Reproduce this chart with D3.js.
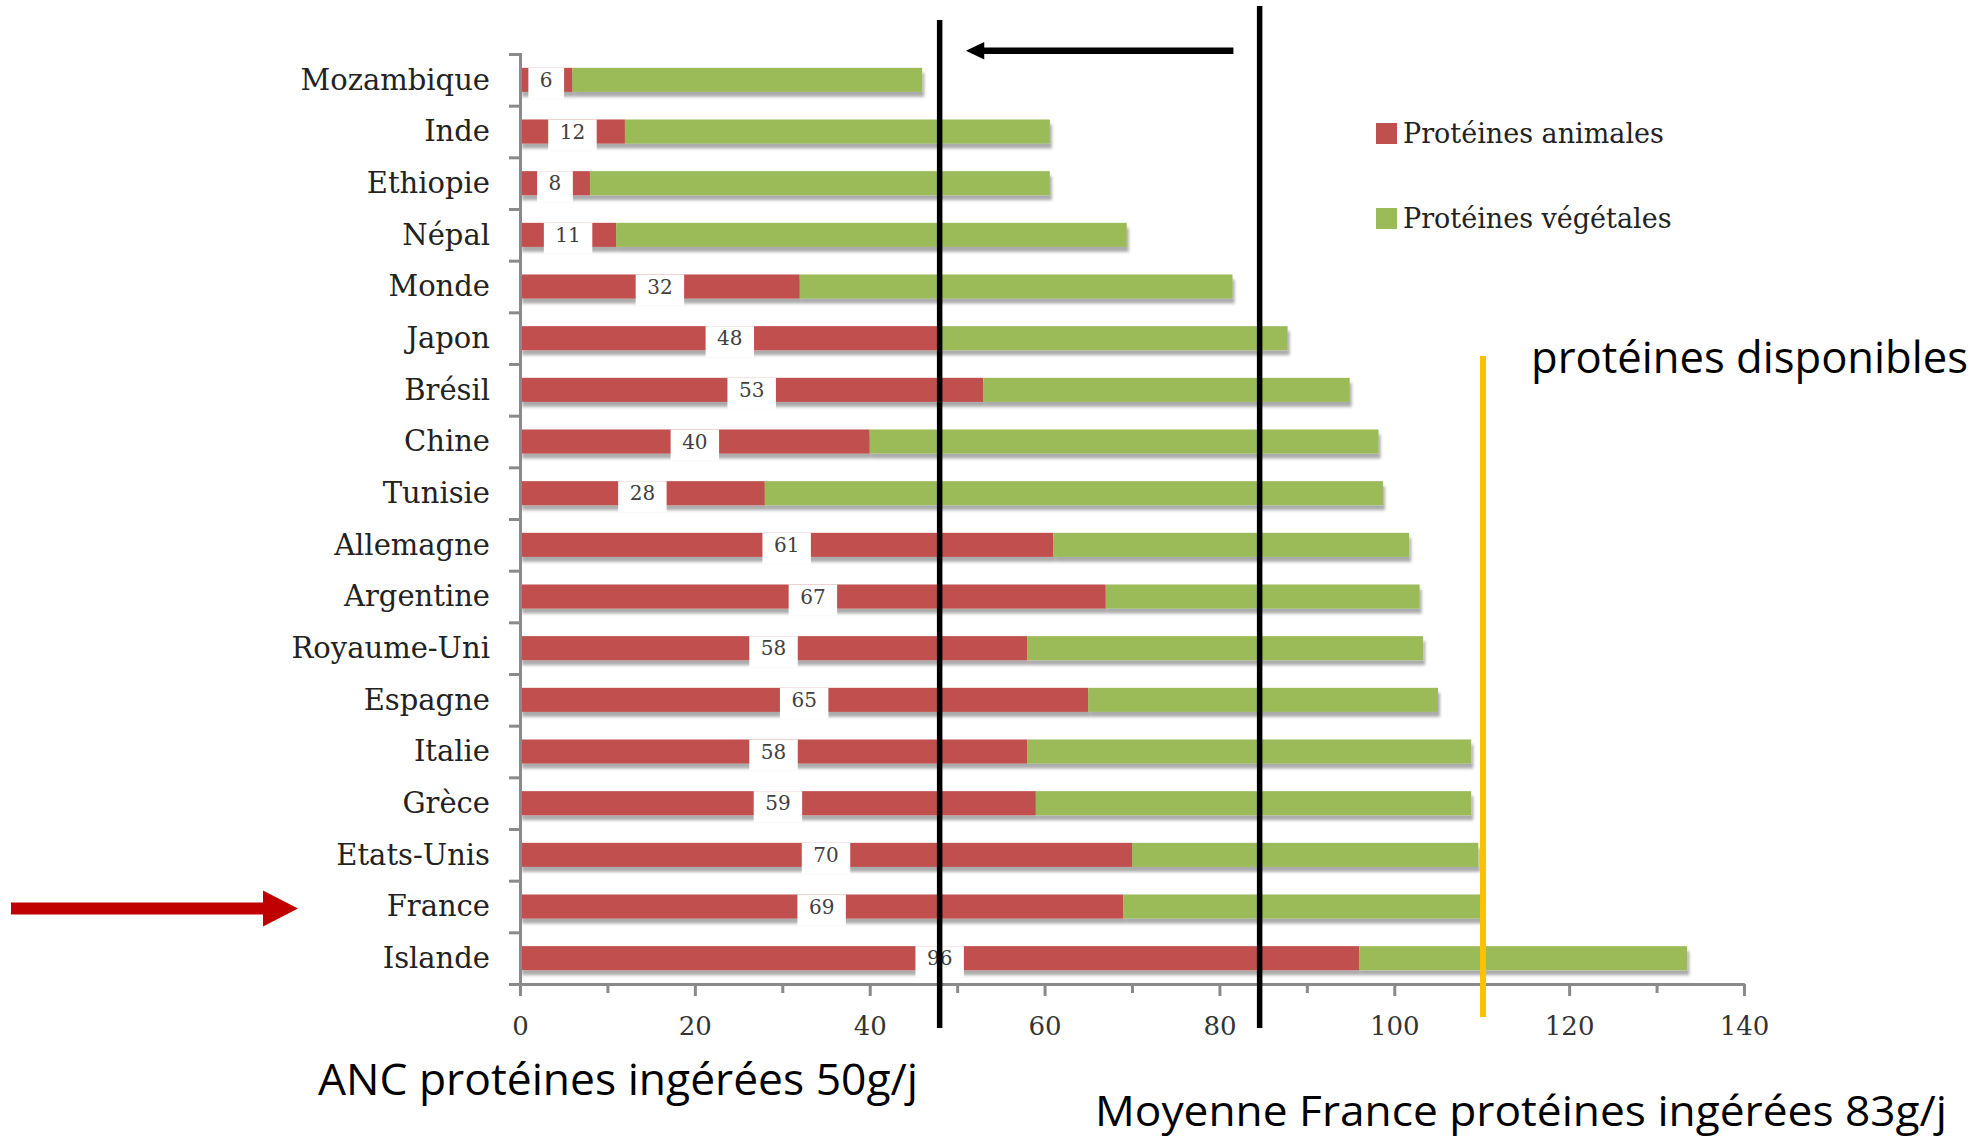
<!DOCTYPE html>
<html lang="fr">

<head>
    <meta charset="UTF-8">
    <title>Protéines disponibles</title>
    <style>
        body { margin: 0; background: #fff; }
        svg { display: block; }
    </style>
</head>

<body>
    <script src="https://d3js.org/d3.v7.min.js"></script>
    <svg id="vis"></svg>

    <script>
        // Data
        const countries = ['Mozambique', 'Inde', 'Ethiopie', 'Népal', 'Monde', 'Japon', 'Brésil', 'Chine', 'Tunisie',
            'Allemagne', 'Argentine', 'Royaume-Uni', 'Espagne', 'Italie', 'Grèce', 'Etats-Unis', 'France', 'Islande']
        const animal = [6, 12, 8, 11, 32, 48, 53, 40, 28, 61, 67, 58, 65, 58, 59, 70, 69, 96]
        const vegetal = [40, 48.6, 52.6, 58.4, 49.5, 39.8, 41.9, 58.2, 70.7, 40.7, 35.9, 45.3, 40, 50.8, 49.8, 39.6, 41, 37.5]
        const seriesNames = ['Protéines animales', 'Protéines végétales']
        const xTicks = [0, 20, 40, 60, 80, 100, 120, 140]
        const xMinorTicks = [10, 30, 50, 70, 90, 110, 130]

        // Annotation values (g/j)
        const ancLine = 48
        const franceLine = 84.6
        const availableLine = 110.15

        // Configurations
        const width = 1973
        const height = 1138
        const red = '#C0504D'
        const green = '#9BBB59'
        const axisGrey = '#8a8a8a'
        const serif = '"DejaVu Serif", serif'
        const sans = '"Open Sans", sans-serif'

        const rows = countries.map((c, i) => ({ country: c, animal: animal[i], vegetal: vegetal[i] }))

        const svg = d3.select('#vis')
            .attr('width', width)
            .attr('height', height)

        const defs = svg.append('defs')
        const shadow = defs.append('filter')
            .attr('id', 'shadow')
            .attr('x', '-5%').attr('y', '-50%')
            .attr('width', '110%').attr('height', '200%')
        shadow.append('feDropShadow')
            .attr('dx', 2).attr('dy', 5)
            .attr('stdDeviation', 1.6)
            .attr('flood-color', '#000')
            .attr('flood-opacity', 0.33)

        const x = d3.scaleLinear().domain([0, 140]).range([520, 1744])
        const y = d3.scaleBand().domain(countries).range([54, 984]).paddingInner(0.535).paddingOuter(0.2675)
        const yEdges = d3.scaleLinear().domain([0, countries.length]).range([54, 984])

        // Bars
        const bar = svg.append('g').selectAll('g').data(rows).join('g')
            .attr('filter', 'url(#shadow)')
        bar.append('rect')
            .attr('x', x(0))
            .attr('y', d => y(d.country))
            .attr('width', d => x(d.animal) - x(0))
            .attr('height', y.bandwidth())
            .attr('fill', red)
        bar.append('rect')
            .attr('x', d => x(d.animal))
            .attr('y', d => y(d.country))
            .attr('width', d => x(d.animal + d.vegetal) - x(d.animal))
            .attr('height', y.bandwidth())
            .attr('fill', green)

        // Value labels (animal proteins), white box sized to the text
        const label = svg.append('g').selectAll('g').data(rows).join('g')
            .attr('transform', d => `translate(${x(d.animal / 2)},${y(d.country)})`)
        const labelBox = label.append('rect')
            .attr('y', 0)
            .attr('height', 31)
            .attr('fill', '#fff')
        const labelText = label.append('text')
            .attr('y', y.bandwidth() / 2)
            .attr('dy', '0.36em')
            .attr('text-anchor', 'middle')
            .style('font-family', serif)
            .style('font-size', '20px')
            .attr('fill', '#404040')
            .text(d => d.animal)
        labelText.each(function (d) {
            const w = this.getComputedTextLength() + 23
            d3.select(this.parentNode).select('rect').attr('x', -w / 2).attr('width', w)
        })

        // Y axis: boundary ticks + category labels
        svg.append('g')
            .attr('transform', `translate(${x(0)},0)`)
            .call(d3.axisLeft(yEdges).ticks(countries.length).tickSize(11).tickFormat(''))
            .call(g => g.selectAll('path, line').attr('stroke', axisGrey).attr('stroke-width', 3))
        svg.append('g')
            .attr('transform', `translate(${x(0)},0)`)
            .call(d3.axisLeft(y).tickSize(0).tickPadding(30))
            .call(g => g.select('.domain').remove())
            .call(g => g.selectAll('text')
                .attr('dy', '0.34em')
                .style('font-family', serif)
                .style('font-size', '29px')
                .attr('fill', '#222'))

        // X axis
        svg.append('g')
            .attr('transform', `translate(0,${yEdges(countries.length)})`)
            .call(d3.axisBottom(x).tickValues(xMinorTicks).tickSize(9).tickSizeOuter(0).tickFormat(''))
            .call(g => g.selectAll('path, line').attr('stroke', axisGrey).attr('stroke-width', 3))
        svg.append('g')
            .attr('transform', `translate(0,${yEdges(countries.length)})`)
            .call(d3.axisBottom(x).tickValues(xTicks).tickSize(12).tickSizeOuter(0).tickPadding(21))
            .call(g => g.selectAll('path, line').attr('stroke', axisGrey).attr('stroke-width', 3))
            .call(g => g.selectAll('text')
                .style('font-family', serif)
                .style('font-size', '26px')
                .attr('fill', '#333'))

        // Legend
        const legend = svg.append('g').selectAll('g').data(seriesNames).join('g')
            .attr('transform', (d, i) => `translate(1376,${123 + i * 85})`)
        legend.append('rect')
            .attr('width', 21).attr('height', 21)
            .attr('fill', (d, i) => i === 0 ? red : green)
        legend.append('text')
            .attr('x', 27).attr('y', 20)
            .style('font-family', serif)
            .style('font-size', '27px')
            .attr('fill', '#222')
            .text(d => d)

        // Reference lines
        svg.append('line')
            .attr('x1', x(availableLine)).attr('x2', x(availableLine))
            .attr('y1', 356).attr('y2', 1017)
            .attr('stroke', '#FFC000').attr('stroke-width', 6)
        svg.append('line')
            .attr('x1', x(ancLine)).attr('x2', x(ancLine))
            .attr('y1', 20).attr('y2', 1028)
            .attr('stroke', '#000').attr('stroke-width', 5.5)
        svg.append('line')
            .attr('x1', x(franceLine)).attr('x2', x(franceLine))
            .attr('y1', 6).attr('y2', 1028)
            .attr('stroke', '#000').attr('stroke-width', 5.5)

        // Black arrow (83 -> 50)
        const arrowY = 50.7
        svg.append('line')
            .attr('x1', x(81.6)).attr('x2', x(52.7))
            .attr('y1', arrowY).attr('y2', arrowY)
            .attr('stroke', '#000').attr('stroke-width', 6.5)
        svg.append('polygon')
            .attr('points', `${x(51)},${arrowY} ${x(53.1)},${arrowY - 8.7} ${x(53.1)},${arrowY + 8.7}`)
            .attr('fill', '#000')

        // Red arrow pointing at France
        const fy = y('France') + y.bandwidth() / 2 + 2
        svg.append('polygon')
            .attr('points', [[11, fy - 6], [263, fy - 6], [263, fy - 18], [298, fy], [263, fy + 18], [263, fy + 6], [11, fy + 6]].join(' '))
            .attr('fill', '#C00000')

        // Annotations
        const notes = [
            { text: 'protéines disponibles', x: 1531, y: 373, len: 437 },
            { text: 'ANC protéines ingérées 50g/j', x: 318, y: 1095, len: 600 },
            { text: 'Moyenne France protéines ingérées 83g/j', x: 1095, y: 1126, len: 852 }
        ]
        svg.append('g').selectAll('text').data(notes).join('text')
            .attr('x', d => d.x)
            .attr('y', d => d.y)
            .attr('textLength', d => d.len)
            .attr('lengthAdjust', 'spacingAndGlyphs')
            .style('font-family', sans)
            .style('font-size', d => d.y > 1100 ? '42px' : '44px')
            .attr('fill', '#000')
            .text(d => d.text)
    </script>
</body>

</html>
